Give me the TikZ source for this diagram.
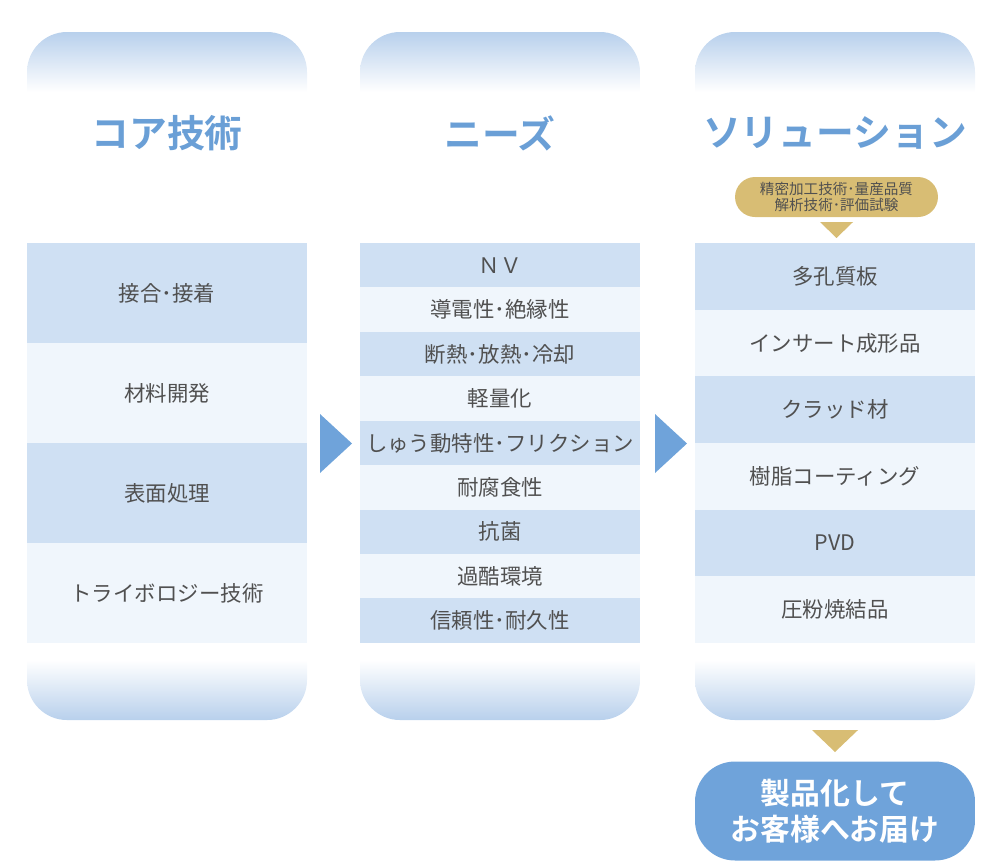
\documentclass[tikz,border=0pt]{standalone}
\usepackage{fontspec}
\setmainfont{Noto Sans CJK JP}[BoldFont={Noto Sans CJK JP Bold}]
\usetikzlibrary{positioning}

\definecolor{capblue}{HTML}{B8D0EC}
\definecolor{rowdark}{HTML}{CFE0F3}
\definecolor{rowlight}{HTML}{F0F6FC}
\definecolor{titleblue}{HTML}{6A9FD6}
\definecolor{arrowblue}{HTML}{6FA3DA}
\definecolor{goldtag}{HTML}{D8BD74}
\definecolor{textgrey}{HTML}{505050}

\tikzset{
  rowbox/.style={minimum width=5.6cm, inner sep=0pt, outer sep=0pt, text=textgrey, font=\fontsize{12.2}{14}\selectfont},
  dark/.style={rowbox, fill=rowdark},
  light/.style={rowbox, fill=rowlight},
  coltitle/.style={text=titleblue, font=\fontsize{21.5}{24}\selectfont\bfseries},
}

\begin{document}
\begin{tikzpicture}[x=0.02cm, y=-0.02cm]
\useasboundingbox (0,0) rectangle (1000,867);

% column caps
\begin{scope}
\clip[rounded corners=0.8cm] (27,32) rectangle (307,720);
\shade[top color=capblue, bottom color=white] (27,32) rectangle (307,92);
\shade[top color=white, bottom color=capblue] (27,660) rectangle (307,720);
\end{scope}
\begin{scope}
\clip[rounded corners=0.8cm] (360,32) rectangle (640,720);
\shade[top color=capblue, bottom color=white] (360,32) rectangle (640,92);
\shade[top color=white, bottom color=capblue] (360,660) rectangle (640,720);
\end{scope}
\begin{scope}
\clip[rounded corners=0.8cm] (695,32) rectangle (975,720);
\shade[top color=capblue, bottom color=white] (695,32) rectangle (975,92);
\shade[top color=white, bottom color=capblue] (695,660) rectangle (975,720);
\end{scope}

% titles
\node[coltitle] (core) at (167,133) {コア技術};
\node[coltitle] (needs) at (500,133) {ニーズ};
\node[coltitle] (sol) at (835,133) {ソリューション};

% core technologies
\node[dark, minimum height=2cm] (c1) at (167,293) {接合･接着};
\node[light, minimum height=2cm, below=0pt of c1] (c2) {材料開発};
\node[dark, minimum height=2cm, below=0pt of c2] (c3) {表面処理};
\node[light, minimum height=2cm, below=0pt of c3] (c4) {トライボロジー技術};

% needs
\node[dark, minimum height=0.8889cm] (n1) at (500,265.2) {ＮＶ};
\node[light, minimum height=0.8889cm, below=0pt of n1] (n2) {導電性･絶縁性};
\node[dark, minimum height=0.8889cm, below=0pt of n2] (n3) {断熱･放熱･冷却};
\node[light, minimum height=0.8889cm, below=0pt of n3] (n4) {軽量化};
\node[dark, minimum height=0.8889cm, below=0pt of n4] (n5) {しゅう動特性･フリクション};
\node[light, minimum height=0.8889cm, below=0pt of n5] (n6) {耐腐食性};
\node[dark, minimum height=0.8889cm, below=0pt of n6] (n7) {抗菌};
\node[light, minimum height=0.8889cm, below=0pt of n7] (n8) {過酷環境};
\node[dark, minimum height=0.8889cm, below=0pt of n8] (n9) {信頼性･耐久性};

% solutions
\node[dark, minimum height=1.3333cm] (s1) at (835,276.3) {多孔質板};
\node[light, minimum height=1.3333cm, below=0pt of s1] (s2) {インサート成形品};
\node[dark, minimum height=1.3333cm, below=0pt of s2] (s3) {クラッド材};
\node[light, minimum height=1.3333cm, below=0pt of s3] (s4) {樹脂コーティング};
\node[dark, minimum height=1.3333cm, below=0pt of s4] (s5) {PVD};
\node[light, minimum height=1.3333cm, below=0pt of s5] (s6) {圧粉焼結品};

% arrows between columns
\fill[arrowblue] (320,414) -- (320,473) -- (352,443.5) -- cycle;
\fill[arrowblue] (655,414) -- (655,473) -- (687,443.5) -- cycle;

% base technologies tag
\node[fill=goldtag, rounded corners=0.4cm, minimum width=4.06cm, minimum height=0.8cm, inner sep=0pt,
      align=center, text=textgrey, font=\fontsize{8.3}{9.6}\selectfont] (tag) at (836.5,197)
      {精密加工技術･量産品質\\解析技術･評価試験};
\fill[goldtag] (820,222) -- (853,222) -- (836.5,238) -- cycle;

% result
\fill[goldtag] (812,730) -- (858,730) -- (835,752) -- cycle;
\node[fill=arrowblue, rounded corners=0.8cm, minimum width=5.6cm, minimum height=1.98cm, inner sep=0pt,
      align=center, text=white, font=\fontsize{17}{20.5}\selectfont\bfseries] (goal) at (835,811)
      {製品化して\\お客様へお届け};
\end{tikzpicture}
\end{document}
